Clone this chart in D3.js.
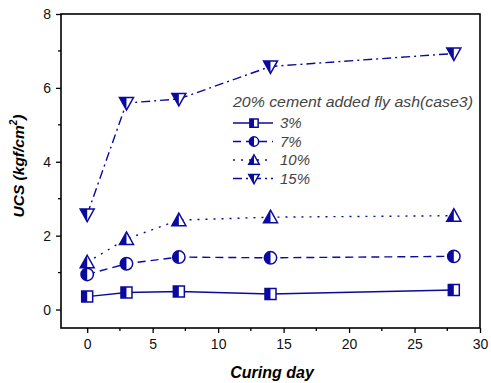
<!DOCTYPE html>
<html>
<head>
<meta charset="utf-8">
<script src="https://cdn.jsdelivr.net/npm/d3@7"></script>
<style>
  html, body { margin: 0; padding: 0; background: #fff; }
  svg { display: block; font-family: "Liberation Sans", Arial, sans-serif; }
</style>
</head>
<body>
<svg id="chart" width="491" height="383"></svg>
<script>
// Curing days at which specimens were tested
const days = [0, 3, 7, 14, 28];
// Unconfined compressive strength (kgf/cm²) for each fly-ash content
const seriesNames = ["3%", "7%", "10%", "15%"];
const ucs3 = [0.35, 0.46, 0.49, 0.42, 0.53];
const ucs7 = [0.95, 1.24, 1.42, 1.40, 1.44];
const ucs10 = [1.28, 1.91, 2.42, 2.50, 2.54];
const ucs15 = [2.57, 5.59, 5.70, 6.58, 6.93];
const xTicks = [0, 5, 10, 15, 20, 25, 30];
const yTicks = [0, 2, 4, 6, 8];
const legendTitle = "20% cement added fly ash(case3)";

const color = "#0a0a9e";
const svg = d3.select("#chart");
const margin = { left: 61, right: 11, top: 14, bottom: 55 };
const W = 491, H = 383;

const x = d3.scaleLinear().domain([-2, 30]).range([margin.left, W - margin.right]);
const y = d3.scaleLinear().domain([-0.5, 8]).range([H - margin.bottom, margin.top]);

const series = [
  { name: seriesNames[0], values: ucs3, dash: null, shape: "square" },
  { name: seriesNames[1], values: ucs7, dash: "8,5", shape: "circle" },
  { name: seriesNames[2], values: ucs10, dash: "2,6", shape: "up" },
  { name: seriesNames[3], values: ucs15, dash: "9,4,2,4", shape: "down" }
];

// Axes
const xAxis = d3.axisBottom(x).tickValues(xTicks).tickSize(5).tickPadding(6);
const yAxis = d3.axisLeft(y).tickValues(yTicks).tickSize(5).tickPadding(5);

const gx = svg.append("g").attr("transform", `translate(0,${H - margin.bottom})`).call(xAxis);
const gy = svg.append("g").attr("transform", `translate(${margin.left},0)`).call(yAxis);
[gx, gy].forEach(g => {
  g.select(".domain").remove();
  g.selectAll("line").attr("stroke", "#000").attr("stroke-width", 1.3);
  g.selectAll("text").attr("font-size", 14).attr("fill", "#111")
    .attr("font-family", "Liberation Sans, Arial, sans-serif");
});

// Minor ticks
const xMinor = d3.range(-2.5, 30, 5).filter(v => v > -2);
svg.append("g").selectAll("line").data(xMinor).join("line")
  .attr("x1", d => x(d)).attr("x2", d => x(d))
  .attr("y1", H - margin.bottom).attr("y2", H - margin.bottom + 3)
  .attr("stroke", "#000").attr("stroke-width", 1.3);
const yMinor = [1, 3, 5, 7];
svg.append("g").selectAll("line").data(yMinor).join("line")
  .attr("x1", margin.left - 3).attr("x2", margin.left)
  .attr("y1", d => y(d)).attr("y2", d => y(d))
  .attr("stroke", "#000").attr("stroke-width", 1.3);

// Frame
svg.append("rect")
  .attr("x", margin.left).attr("y", margin.top)
  .attr("width", W - margin.right - margin.left)
  .attr("height", H - margin.bottom - margin.top)
  .attr("fill", "none").attr("stroke", "#000").attr("stroke-width", 1.6);

// Axis titles
svg.append("text")
  .attr("x", 272).attr("y", 378)
  .attr("text-anchor", "middle").attr("font-size", 16)
  .attr("font-weight", "bold").attr("font-style", "italic")
  .text("Curing day");

const yt = svg.append("text")
  .attr("transform", `translate(24,166) rotate(-90)`)
  .attr("text-anchor", "middle").attr("font-size", 15.5)
  .attr("font-weight", "bold").attr("font-style", "italic");
yt.append("tspan").text("UCS (kgf/cm");
yt.append("tspan").attr("font-size", 10).attr("dy", -7).text("2");
yt.append("tspan").attr("dy", 7).text(")");

// Half-filled marker drawing (left half solid, right half open)
function drawMarker(g, shape, cx, cy, k) {
  const m = g.append("g").attr("transform", `translate(${cx},${cy}) scale(${k})`);
  const clipId = "c" + Math.random().toString(36).slice(2);
  m.append("clipPath").attr("id", clipId)
    .append("rect").attr("x", -20).attr("y", -20).attr("width", 20).attr("height", 40);
  let path;
  if (shape === "square") {
    path = "M-5.5,-5.5H5.5V5.5H-5.5Z";
  } else if (shape === "circle") {
    path = d3.arc()({ innerRadius: 0, outerRadius: 6.2, startAngle: 0, endAngle: 2 * Math.PI });
  } else if (shape === "up") {
    path = "M0,-7L7,5.5H-7Z";
  } else {
    path = "M0,7L7,-5.5H-7Z";
  }
  m.append("path").attr("d", path).attr("fill", "#fff");
  m.append("path").attr("d", path).attr("fill", color).attr("clip-path", `url(#${clipId})`);
  m.append("path").attr("d", path).attr("fill", "none")
    .attr("stroke", color).attr("stroke-width", 1.5 / k).attr("stroke-linejoin", "miter");
}

const line = d3.line().x(d => x(d[0])).y(d => y(d[1]));

series.forEach(s => {
  const pts = days.map((d, i) => [d, s.values[i]]);
  svg.append("path").datum(pts)
    .attr("d", line).attr("fill", "none")
    .attr("stroke", color).attr("stroke-width", 1.4)
    .attr("stroke-dasharray", s.dash);
  const g = svg.append("g");
  pts.forEach(p => drawMarker(g, s.shape, x(p[0]), y(p[1]), 1));
});

// Legend
const lg = svg.append("g").attr("transform", "translate(233,0)");
lg.append("text").attr("x", 0).attr("y", 107)
  .attr("font-size", 14).attr("font-style", "italic").attr("fill", "#444")
  .attr("textLength", 240).attr("lengthAdjust", "spacingAndGlyphs")
  .text(legendTitle);
series.forEach((s, i) => {
  const ly = 123 + i * 18.5;
  lg.append("line").attr("x1", 0).attr("x2", 40).attr("y1", ly).attr("y2", ly)
    .attr("stroke", color).attr("stroke-width", 1.4).attr("stroke-dasharray", s.dash);
  drawMarker(lg, s.shape, 21, ly, 0.75);
  lg.append("text").attr("x", 47).attr("y", ly + 5)
    .attr("font-size", 15).attr("font-style", "italic").attr("fill", "#444")
    .text(s.name);
});
</script>
</body>
</html>
